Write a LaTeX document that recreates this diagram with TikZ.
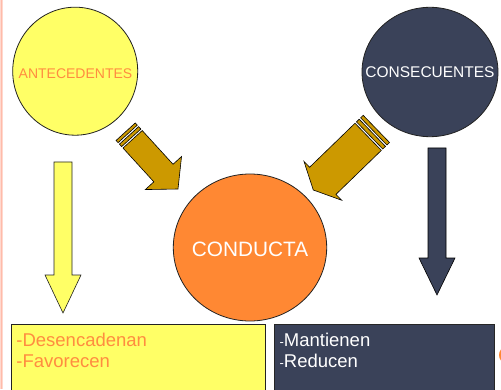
\documentclass[tikz,border=0pt]{standalone}
\usepackage{fontspec}
\setmainfont{Liberation Sans}
\usetikzlibrary{shapes.geometric}
\definecolor{yel}{HTML}{FFFF66}
\definecolor{orng}{HTML}{FF8833}
\definecolor{orngtxt}{HTML}{FF8C40}
\definecolor{navy}{HTML}{3A4259}
\definecolor{brwn}{HTML}{CC9900}
\definecolor{pinkl}{HTML}{FFD8CE}
\definecolor{pinkd}{HTML}{FFBBAA}
\definecolor{edge}{HTML}{222222}
\tikzset{
  circ/.style={ellipse, draw=edge, line width=0.8pt, inner sep=0pt},
  txt/.style={inner sep=0pt},
  boxnode/.style={rectangle, draw=edge, line width=0.9pt, inner sep=0pt, anchor=north west},
  blockarrow/.style={draw=black, line width=0.6pt, line join=miter},
}
\begin{document}
\begin{tikzpicture}[x=1pt,y=1pt]
\useasboundingbox (0,0) rectangle (501,389);
\clip (0,0) rectangle (501,389);
\fill[white] (0,0) rectangle (501,389);
% left margin line
\fill[pinkl] (0,0) rectangle (3,389);
\draw[pinkd, line width=1pt] (1.5,0) -- (1.5,389);

% circles
\node[circ, fill=yel, minimum width=125pt, minimum height=128pt] (ante) at (75.2,317.8) {};
\node[txt, text=orngtxt, font=\fontsize{14}{16}\selectfont] (antetxt) at (75.5,315.5) {ANTECEDENTES};
\node[circ, fill=navy, minimum width=136pt, minimum height=129.4pt] (cons) at (430,317) {};
\node[txt, text=white, font=\fontsize{15.5}{17}\selectfont] (constxt) at (430,316.5) {CONSECUENTES};
\node[circ, fill=orng, minimum width=153.4pt, minimum height=147pt] (cond) at (250,141.5) {};
\node[txt, text=white, font=\fontsize{20.8}{23}\selectfont] (condtxt) at (250,140) {CONDUCTA};

% boxes
\node[boxnode, fill=yel, minimum width=254pt, minimum height=80pt] (ybox) at (11,65) {};
\node[boxnode, fill=navy, draw=black!85, minimum width=220pt, minimum height=80pt] (nbox) at (274,65) {};
\node[txt, anchor=base west, text=orngtxt, font=\fontsize{18.5}{21}\selectfont] (d1) at (16.2,43) {-Desencadenan};
\node[txt, anchor=base west, text=orngtxt, font=\fontsize{18.5}{21}\selectfont] (d2) at (16.2,22) {-Favorecen};
\node[txt, anchor=base west, text=white] (m1) at (279.4,43) {{\fontsize{13}{15}\selectfont -}{\fontsize{18.5}{21}\selectfont Mantienen}};
\node[txt, anchor=base west, text=white] (m2) at (279.4,22) {{\fontsize{13}{15}\selectfont -}{\fontsize{18.5}{21}\selectfont Reducen}};

% down arrows
\draw[blockarrow, fill=yel, draw=edge] (54,227) -- (72,227) -- (72,114) -- (81,114) -- (63,76) -- (45,114) -- (54,114) -- cycle;
\draw[blockarrow, fill=navy] (428,241) -- (446,241) -- (446,131) -- (455,131) -- (437,94) -- (419,131) -- (428,131) -- cycle;

% left brown arrow
\begin{scope}[shift={(178,200)}, rotate=-47.6]
\draw[blockarrow, fill=brwn] (0,0) -- (-21.6,24.5) -- (-21.6,13) -- (-67.3,13) -- (-67.3,-13) -- (-21.6,-13) -- (-21.6,-24.5) -- cycle;
\draw[blockarrow, fill=brwn] (-69.3,-13) rectangle (-72.6,13);
\draw[blockarrow, fill=brwn] (-74.6,-13) rectangle (-77.6,13);
\end{scope}

% right brown arrow
\begin{scope}[shift={(313.3,199)}, rotate=224.1]
\draw[blockarrow, fill=brwn] (0,0) -- (-13.2,27) -- (-13.2,18.9) -- (-76.4,18.9) -- (-76.4,-18.9) -- (-13.2,-18.9) -- (-13.2,-27) -- cycle;
\draw[blockarrow, fill=brwn] (-78.4,-18.9) rectangle (-82.2,18.9);
\draw[blockarrow, fill=brwn] (-84.2,-18.9) rectangle (-87.8,18.9);
\end{scope}

% partial orange circle at right edge
\node[circ, fill=orng, draw=none, minimum width=14pt, minimum height=16pt] (edgecirc) at (506,34) {};
\end{tikzpicture}
\end{document}
